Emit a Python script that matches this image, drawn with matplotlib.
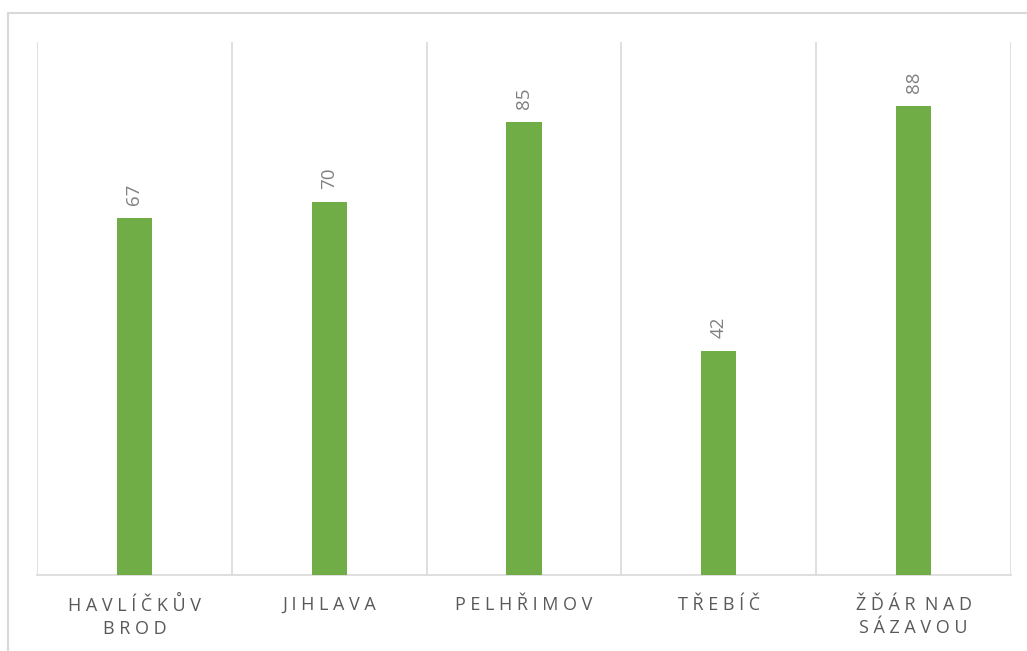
import matplotlib
matplotlib.use("Agg")
import matplotlib.pyplot as plt
from matplotlib.patches import Rectangle

# Data
okresy = ["HAVLÍČKŮV\nBROD", "JIHLAVA", "PELHŘIMOV", "TŘEBÍČ", "ŽĎÁR NAD\nSÁZAVOU"]
hodnoty = [67, 70, 85, 42, 88]

ZELENA = "#70AD47"
MRIZKA = "#D9D9D9"
TEXT = "#595959"


def proloz(s):
    # Excel-like letter spacing
    radky = []
    for radek in s.split("\n"):
        slova = [" ".join(list(w)) for w in radek.split(" ")]
        radky.append("  ".join(slova))
    return "\n".join(radky)


plt.rcParams["font.family"] = ["Open Sans", "DejaVu Sans"]

fig = plt.figure(figsize=(10.27, 6.51), dpi=100)
ax = fig.add_axes([37 / 1027, 1 - 575 / 651, (1011 - 37) / 1027, (575 - 42) / 651])

x = list(range(len(okresy)))
ax.bar(x, hodnoty, width=0.18, color=ZELENA, zorder=3)

for xi, v in zip(x, hodnoty):
    ax.annotate(str(v), (xi, v), xytext=(0, 9.5), textcoords="offset points",
                rotation=90, ha="center", va="bottom", fontsize=13.5, color="#808080")

ax.set_xlim(-0.5, len(okresy) - 0.5)
ax.set_ylim(0, 100)
for g in [i - 0.5 for i in range(len(okresy) + 1)]:
    ax.axvline(g, color=MRIZKA, lw=1.2, zorder=1)

ax.set_xticks(x)
ax.set_xticklabels([proloz(o) for o in okresy], fontsize=13, color=TEXT, linespacing=1.35)
ax.tick_params(axis="x", length=0, pad=15)
ax.set_yticks([])
for s in ["top", "left", "right"]:
    ax.spines[s].set_visible(False)
ax.spines["bottom"].set_color(MRIZKA)
ax.spines["bottom"].set_linewidth(1.2)

# chart border
fig.patches.append(Rectangle((8 / 1027, -0.1), 1.2, 1 - 13 / 651 + 0.1,
                             transform=fig.transFigure, fill=False,
                             edgecolor=MRIZKA, lw=1.5))

fig.savefig("out.png", dpi=100)
